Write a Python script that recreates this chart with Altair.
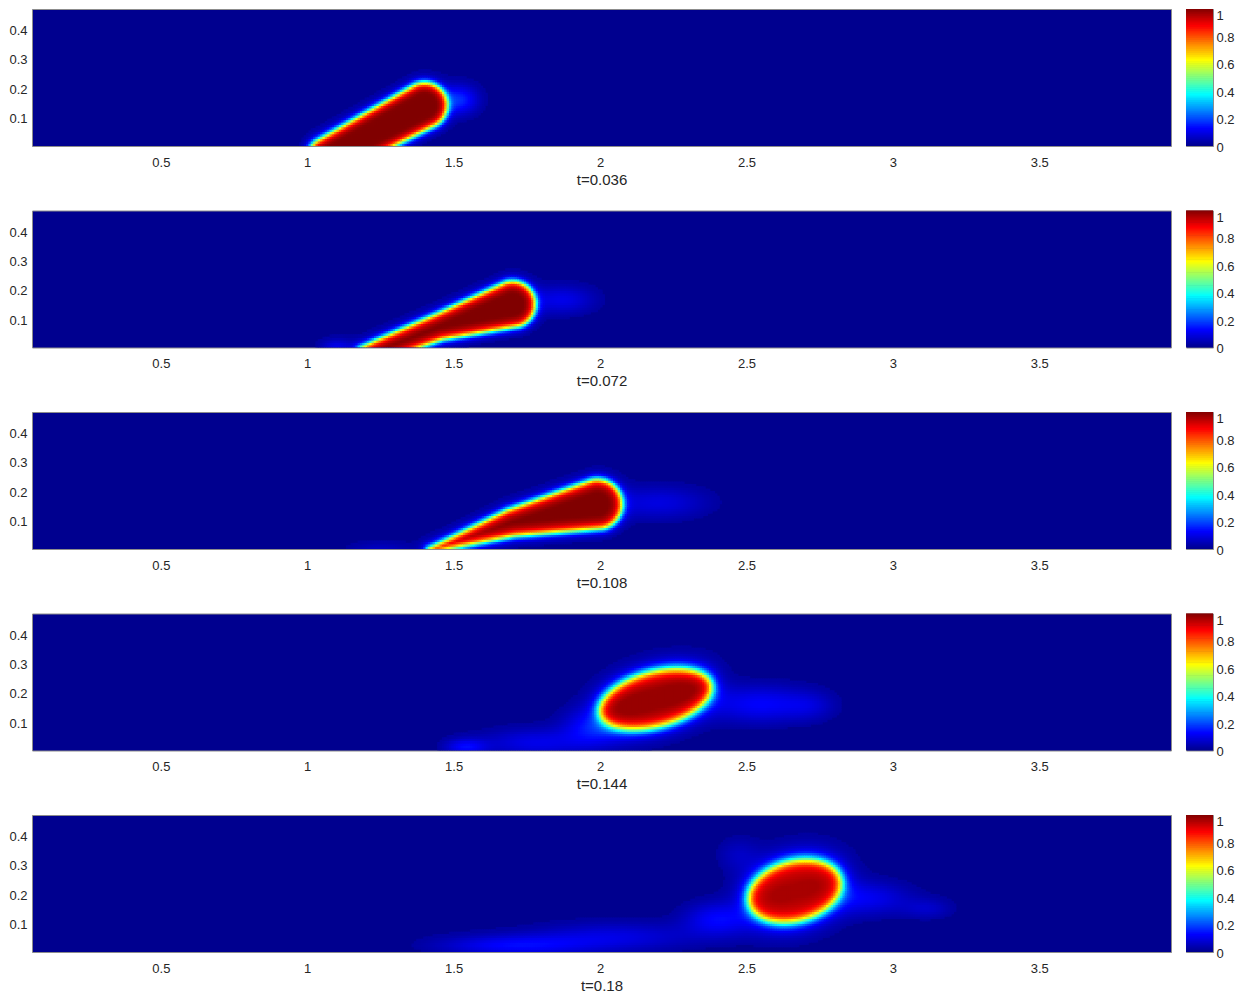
import altair as alt
import numpy as np
import pandas as pd

alt.data_transformers.disable_max_rows()

# ---------------- text / axes ----------------
titles = ["t=0.036", "t=0.072", "t=0.108", "t=0.144", "t=0.18"]
x_ticks = [0.5, 1, 1.5, 2, 2.5, 3, 3.5]
y_ticks = [0.1, 0.2, 0.3, 0.4]
cbar_ticks = [0, 0.2, 0.4, 0.6, 0.8, 1]
x_domain = [0.06, 3.95]
y_domain = [0.008, 0.473]

# MATLAB "jet" colour stops
jet_stops = [0, 0.125, 0.375, 0.625, 0.875, 1]
jet_colors = ["#00008f", "#0000ff", "#00ffff", "#ffff00", "#ff0000", "#800000"]

# ---------------- blob shapes ----------------
# elongated blobs: spine points (x, y, local radius)
spine_1 = [[1.07, -0.03, 0.067], [1.40, 0.146, 0.077]]
spine_2 = [[1.20, -0.02, 0.033], [1.25, 0.0, 0.036], [1.45, 0.078, 0.044], [1.70, 0.155, 0.078]]
spine_3 = [[1.42, 0.004, 0.008], [1.70, 0.098, 0.046], [1.99, 0.160, 0.084]]
# compact blobs: ellipse (cx, cy, semi-axis a, semi-axis b, tilt degrees)
ellipse_4 = [2.19, 0.183, 0.195, 0.092, 15]
ellipse_5 = [2.665, 0.215, 0.160, 0.100, 15]

edge_width = [0.014, 0.014, 0.015, 0.020, 0.021]
rim_level = [0.92, 0.91, 0.91, 0.89, 0.88]
core_level = [1.0, 1.0, 1.0, 0.97, 0.95]
core_depth = [0.035, 0.04, 0.045, 0.06, 0.08]
glow_level = [0.14, 0.13, 0.13, 0.20, 0.22]
glow_length = [0.018, 0.018, 0.02, 0.030, 0.035]

# faint diffuse patches: (cx, cy, sx, sy, amplitude)
halos_1 = [[1.52, 0.165, 0.045, 0.035, 0.16]]
halos_2 = [[1.87, 0.17, 0.08, 0.035, 0.10], [1.10, 0.01, 0.04, 0.02, 0.10]]
halos_3 = [[2.20, 0.165, 0.12, 0.04, 0.09], [1.25, 0.005, 0.08, 0.02, 0.06]]
halos_4 = [[1.54, 0.02, 0.05, 0.02, 0.12], [1.78, 0.035, 0.13, 0.035, 0.10],
           [1.97, 0.09, 0.07, 0.045, 0.12], [2.55, 0.165, 0.12, 0.045, 0.12],
           [2.72, 0.16, 0.06, 0.035, 0.05]]
halos_5 = [[1.70, 0.03, 0.18, 0.025, 0.12], [2.05, 0.06, 0.20, 0.035, 0.09],
           [2.40, 0.12, 0.08, 0.04, 0.12], [2.92, 0.19, 0.10, 0.04, 0.10],
           [3.12, 0.155, 0.06, 0.025, 0.06], [2.47, 0.34, 0.05, 0.04, 0.05]]

shapes = [("spine", spine_1), ("spine", spine_2), ("spine", spine_3),
          ("ellipse", ellipse_4), ("ellipse", ellipse_5)]
halos = [halos_1, halos_2, halos_3, halos_4, halos_5]

cell = 0.008


def spine_dist(X, Y, pts):
    d = np.full(X.shape, np.inf)
    for (x0, y0, r0), (x1, y1, r1) in zip(pts[:-1], pts[1:]):
        vx, vy = x1 - x0, y1 - y0
        L2 = vx * vx + vy * vy
        t = np.clip(((X - x0) * vx + (Y - y0) * vy) / L2, 0, 1)
        px, py = x0 + t * vx, y0 + t * vy
        d = np.minimum(d, np.hypot(X - px, Y - py) - (r0 + t * (r1 - r0)))
    return d


def ellipse_dist(X, Y, e):
    cx, cy, a, b, ang = e
    th = np.radians(ang)
    u = (X - cx) * np.cos(th) + (Y - cy) * np.sin(th)
    v = -(X - cx) * np.sin(th) + (Y - cy) * np.cos(th)
    k0 = np.hypot(u / a, v / b)
    k1 = np.hypot(u / a ** 2, v / b ** 2)
    return k0 * (k0 - 1) / np.maximum(k1, 1e-9)


xs = np.arange(x_domain[0], x_domain[1], cell)
ys = np.arange(y_domain[0], y_domain[1], cell)
X, Y = np.meshgrid(xs + cell / 2, ys + cell / 2)
XL, YL = np.meshgrid(xs, ys)

frames = []
for i in range(5):
    kind, shp = shapes[i]
    d = spine_dist(X, Y, shp) if kind == "spine" else ellipse_dist(X, Y, shp)
    s = 0.5 * (1 - np.tanh(d / edge_width[i]))
    inner = np.clip(-d / core_depth[i], 0, 1)
    core = s * (rim_level[i] + (core_level[i] - rim_level[i]) * inner)
    glow = glow_level[i] * np.exp(-np.maximum(d, 0) / glow_length[i])
    halo = np.zeros_like(X)
    for cx, cy, sx, sy, amp in halos[i]:
        halo += amp * np.exp(-0.5 * ((X - cx) / sx) ** 2 - 0.5 * ((Y - cy) / sy) ** 2)
    v = core + (1 - core) * np.clip(glow + halo, 0, 1)
    v = np.clip(v, 0, 1)
    m = v > 0.02
    frames.append(pd.DataFrame({"p": i, "x": np.round(XL[m], 4),
                                "y": np.round(YL[m], 4), "v": np.round(v[m], 3)}))
field = pd.concat(frames, ignore_index=True)

cbar = pd.DataFrame({"c": np.round(np.arange(0, 1, 0.005), 3)})

jet = alt.Scale(domain=jet_stops, range=jet_colors, interpolate="rgb", clamp=True)

FONT = "Liberation Sans"
TXT = "#262626"
PH = 137

rows = []
for i in range(5):
    heat = (
        alt.Chart(field)
        .transform_filter(alt.datum.p == i)
        .transform_calculate(x2=f"datum.x + {cell * 1.6}", y2=f"datum.y + {cell * 1.6}")
        .mark_rect(clip=True, strokeWidth=0)
        .encode(
            x=alt.X("x:Q", scale=alt.Scale(domain=x_domain, nice=False, zero=False),
                    axis=alt.Axis(values=x_ticks, title=titles[i], format="~g",
                                  ticks=False, tickSize=0, domain=False, grid=False,
                                  labelPadding=10, titlePadding=3, labelFlush=False,
                                  labelFontSize=13, titleFontSize=15,
                                  titleFontWeight="normal", labelColor=TXT,
                                  titleColor=TXT)),
            x2="x2:Q",
            y=alt.Y("y:Q", scale=alt.Scale(domain=y_domain, nice=False, zero=False),
                    axis=alt.Axis(values=y_ticks, title=None, format="~g",
                                  ticks=False, tickSize=0, domain=False, grid=False,
                                  labelPadding=5, labelFlush=False,
                                  labelFontSize=13, labelColor=TXT)),
            y2="y2:Q",
            color=alt.Color("v:Q", scale=jet, legend=None),
        )
        .properties(width=1139, height=PH)
    )
    bar = (
        alt.Chart(cbar)
        .transform_calculate(c2="datum.c + 0.01")
        .mark_rect(clip=True, strokeWidth=0)
        .encode(
            y=alt.Y("c:Q", scale=alt.Scale(domain=[0, 1], nice=False, zero=False),
                    axis=alt.Axis(orient="right", values=cbar_ticks, title=None,
                                  format="~g", ticks=False, tickSize=0, domain=False,
                                  grid=False, labelPadding=3, labelFlush=False,
                                  labelFontSize=13, labelColor=TXT,
                                  labelOffset={"condition": {"test": "datum.value == 1", "value": 6.5},
                                               "value": 1})),
            y2="c2:Q",
            color=alt.Color("c:Q", scale=jet, legend=None),
        )
        .properties(width=27, height=PH)
    )
    rows.append(alt.hconcat(heat, bar, spacing=13))

chart = (
    alt.vconcat(*rows, spacing=21.5)
    .properties(padding={"left": 0, "top": 0, "right": 0, "bottom": 0})
    .configure(font=FONT)
    .configure_view(stroke="#8c8c8c", strokeWidth=1, fill="#00008f")
)

chart.save("out.html", embed_options={"renderer": "svg", "actions": False})
